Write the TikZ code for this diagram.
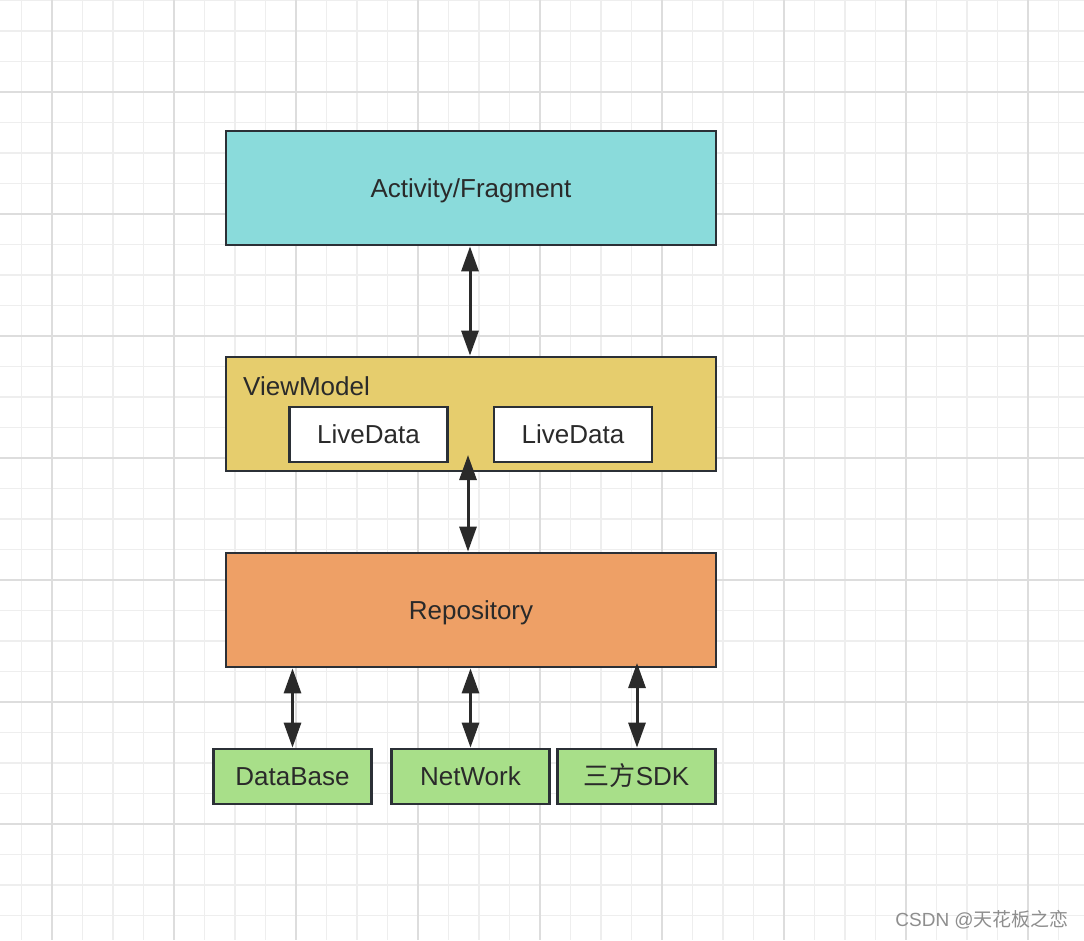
\documentclass[tikz,border=0pt]{standalone}
\usepackage{fontspec}
\setmainfont{Liberation Sans}
\newfontfamily\cjk{Noto Sans CJK SC}
\usetikzlibrary{arrows.meta}
\definecolor{gridminor}{HTML}{EEEEEE}
\definecolor{gridmajor}{HTML}{DDDDDD}
\definecolor{bordc}{HTML}{2B3036}
\definecolor{txtc}{HTML}{2A2A2A}
\definecolor{cyanf}{HTML}{8ADBDB}
\definecolor{yellowf}{HTML}{E6CD6D}
\definecolor{orangef}{HTML}{EEA066}
\definecolor{greenf}{HTML}{A8DF89}
\definecolor{wmark}{HTML}{8E8E8E}
\tikzset{
  box/.style={draw=bordc, line width=2.8pt, rectangle, inner sep=0pt, text=txtc,
    font=\fontsize{26}{30}\selectfont, text height=18.6pt, text depth=0pt},
  arr/.style={draw=txtc, line width=3pt, {Triangle[length=25pt,width=17pt]}-{Triangle[length=25pt,width=17pt]}}
}
\begin{document}
\begin{tikzpicture}[x=1pt,y=-1pt]
\fill[white] (0,0) rectangle (1084,940);
\useasboundingbox (0,0) rectangle (1084,940);
% grid
\foreach \xx in {21.5,52,...,1090} {
  \draw[gridminor, line width=1.5pt] (\xx,0) -- (\xx,940);
}
\foreach \yy in {0.5,31,...,945} {
  \draw[gridminor, line width=1.5pt] (0,\yy) -- (1084,\yy);
}
\foreach \xx in {52,174,...,1090} {
  \draw[gridmajor, line width=2pt] (\xx,0) -- (\xx,940);
}
\foreach \yy in {92,214,...,945} {
  \draw[gridmajor, line width=2pt] (0,\yy) -- (1084,\yy);
}
% boxes
\node[box, fill=cyanf, minimum width=490pt, minimum height=114pt] (af) at (471,188) {Activity/Fragment};
\node[box, fill=yellowf, minimum width=490pt, minimum height=114pt] (vm) at (471,414) {};
\node[text=txtc, font=\fontsize{26}{30}\selectfont, text height=18.6pt, text depth=0pt, anchor=west, inner sep=0pt] (vml) at (243,386.5) {ViewModel};
\node[box, fill=white, minimum width=158pt, minimum height=55pt] (ld1) at (368.5,434.5) {LiveData};
\node[box, fill=white, minimum width=158pt, minimum height=55pt] (ld2) at (573,434.5) {LiveData};
\node[box, fill=orangef, minimum width=490pt, minimum height=114pt] (repo) at (471,610) {Repository};
\node[box, fill=greenf, minimum width=158pt, minimum height=55pt] (db) at (292.5,776.5) {DataBase};
\node[box, fill=greenf, minimum width=158pt, minimum height=55pt] (net) at (470.5,776.5) {NetWork};
\node[box, fill=greenf, minimum width=158pt, minimum height=55pt] (sdk) at (636.5,776.5) {{\cjk 三方}SDK};
% arrows
\draw[arr] ([xshift=-1pt]af.south) -- ([xshift=-1pt]vm.north);
\coordinate (vmb) at (468,455);
\draw[arr] (vmb) -- (vmb |- repo.north);
\draw[arr] (db.north |- repo.south) -- (db.north);
\draw[arr] (net.north |- repo.south) -- (net.north);
\coordinate (repob) at (637,663);
\draw[arr] (repob) -- (repob |- sdk.north);
% watermark
\node[text=wmark, font=\fontsize{19}{22}\selectfont, anchor=east, inner sep=0pt] (wm) at (1069,920) {CSDN @{\cjk 天花板之恋}};
\end{tikzpicture}
\end{document}
